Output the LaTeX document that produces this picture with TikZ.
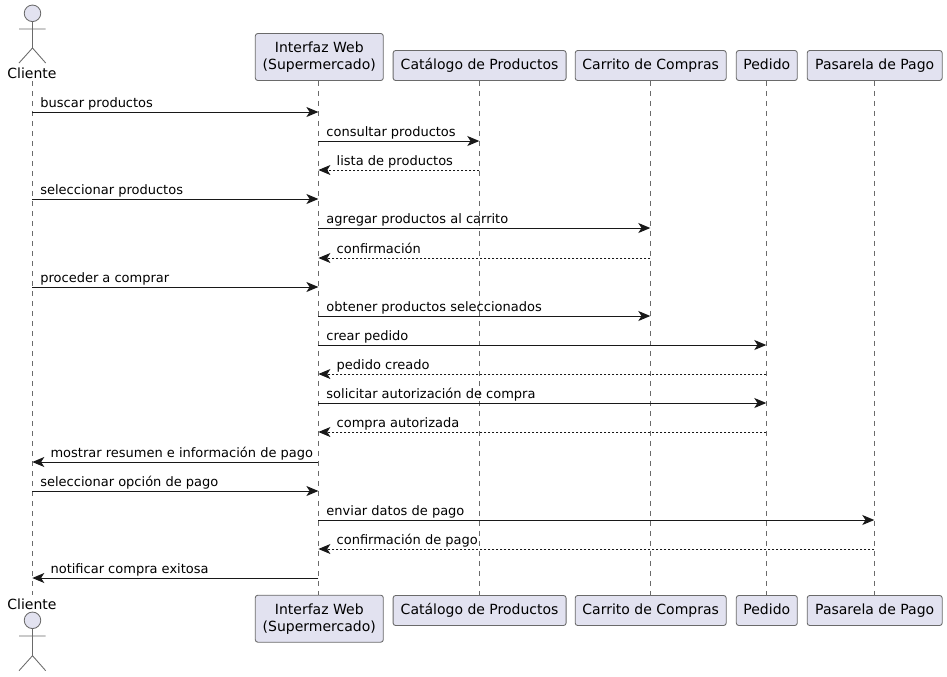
\documentclass[tikz,border=0pt]{standalone}
\usepackage{fontspec}
\setmainfont{DejaVu Sans}
\usetikzlibrary{arrows.meta}
\definecolor{BoxFill}{HTML}{E2E2F0}
\definecolor{Stroke}{HTML}{181818}
\definecolor{Thin}{HTML}{6A6A6A}
\tikzset{
	partbox/.style={draw=Thin, fill=BoxFill, line width=0.65pt, rounded corners=1.9pt, align=center, inner sep=0pt, font=\fontsize{10.5}{12.75}\selectfont},
	smallbox/.style={partbox, minimum height=22.5pt, text height=8.4pt, text depth=2.1pt},
	actorline/.style={draw=Thin, line width=0.65pt},
	lifeline/.style={draw=Thin, line width=0.55pt, dash pattern=on 3.75pt off 3.75pt},
	msg/.style={draw=Stroke, line width=0.75pt, -{Stealth[length=9pt, width=7.5pt, inset=2.4pt]}},
	msgback/.style={msg, dash pattern=on 1.5pt off 1.5pt},
	msgtext/.style={anchor=base west, inner sep=0pt, text=black, font=\fontsize{9.75}{12}\selectfont},
	actorname/.style={inner sep=0pt, font=\fontsize{10.5}{12.75}\selectfont}
}
\begin{document}
\begin{tikzpicture}[x=0.75pt, y=-0.75pt]
	\useasboundingbox (0,0) rectangle (947,676);

	% Lifeline columns
	\coordinate (cli) at (32.3,0);
	\coordinate (web) at (318.4,0);
	\coordinate (cat) at (479.3,0);
	\coordinate (car) at (650.3,0);
	\coordinate (ped) at (766.3,0);
	\coordinate (pas) at (874.3,0);

	% Boxes
	\foreach \name/\xx/\boxw/\txt in {cat/479.6/173/Catálogo de Productos, car/650.7/151/Carrito de Compras, ped/766.8/61/Pedido, pas/874.7/135/Pasarela de Pago} {
		\node[smallbox, minimum width=\boxw*0.75pt] (\name top) at (\xx,65.5) {\txt};
		\node[smallbox, minimum width=\boxw*0.75pt] (\name bot) at (\xx,610.5) {\txt};
	}
	\node[partbox, minimum width=96pt, minimum height=35.25pt] (webtop) at (319.3,57) {Interfaz Web\\(Supermercado)};
	\node[partbox, minimum width=96pt, minimum height=35.25pt] (webbot) at (319.3,618.7) {Interfaz Web\\(Supermercado)};

	% Actor
	\node[actorname] (clitop) at (32,73) {Cliente};
	\node[actorname] (clibot) at (32,604) {Cliente};
	\draw[actorline, fill=BoxFill] (32.5,13.3) circle (6.2pt);
	\draw[actorline] (32.5,21.7) -- (32.5,48) (19,29) -- (45.7,29) (19,63) -- (32.5,48) -- (45.7,63);
	\draw[actorline, fill=BoxFill] (32.5,620.3) circle (6.2pt);
	\draw[actorline] (32.5,628.7) -- (32.5,655.7) (19,636) -- (45.7,636) (19,670.7) -- (32.5,655.7) -- (45.7,670.7);

	% Lifelines
	\draw[lifeline] (cli |- 0,81) -- (cli |- 0,595);
	\foreach \name in {web,cat,car,ped,pas} {
		\draw[lifeline] (\name |- \name top.south) -- (\name |- \name bot.north);
	}

	% Messages left to right
	\foreach \yy/\src/\dst/\txt [count=\i] in {112/cli/web/buscar productos, 141/web/cat/consultar productos, 199/cli/web/seleccionar productos, 228/web/car/agregar productos al carrito, 287/cli/web/proceder a comprar, 316/web/car/obtener productos seleccionados, 345/web/ped/crear pedido, 403/web/ped/solicitar autorización de compra, 491/cli/web/seleccionar opción de pago, 520/web/pas/enviar datos de pago} {
		\coordinate (a\i) at (\src |- 0,\yy);
		\coordinate (b\i) at (\dst |- 0,\yy);
		\draw[msg] (a\i) -- (b\i);
		\node[msgtext] (la\i) at ([shift={(7.8,-4.5)}]a\i) {\txt};
	}

	% Messages right to left
	\foreach \yy/\src/\dst/\txt/\sty [count=\i] in {170/cat/web/lista de productos/msgback, 258/car/web/confirmación/msgback, 374/ped/web/pedido creado/msgback, 432/ped/web/compra autorizada/msgback, 462/web/cli/mostrar resumen e información de pago/msg, 549/pas/web/confirmación de pago/msgback, 578/web/cli/notificar compra exitosa/msg} {
		\coordinate (c\i) at (\src |- 0,\yy);
		\coordinate (d\i) at (\dst |- 0,\yy);
		\draw[\sty] (c\i) -- (d\i);
		\node[msgtext] (lb\i) at ([shift={(18,-4.5)}]d\i) {\txt};
	}
\end{tikzpicture}
\end{document}
